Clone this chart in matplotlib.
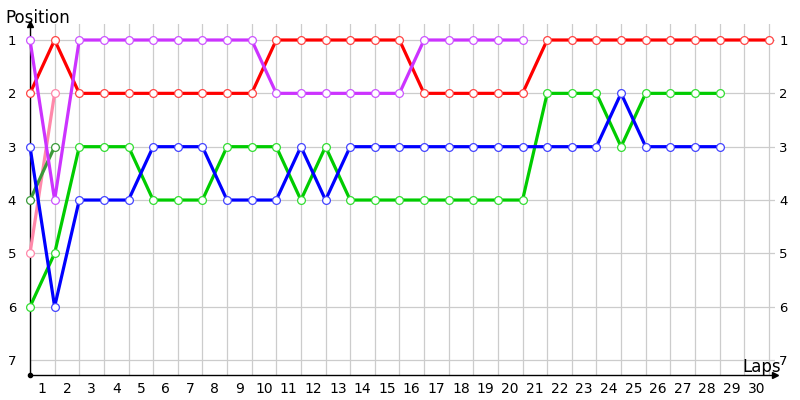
import matplotlib
matplotlib.use("Agg")
import matplotlib.pyplot as plt

# Race position chart: position per lap (lap 0 = start grid)
laps = list(range(31))
lap_labels = [str(k) for k in range(1, 31)]
pos_labels = [str(p) for p in range(1, 8)]

red_pos = [2, 1, 2, 2, 2, 2, 2, 2, 2, 2, 1, 1, 1, 1, 1, 1, 2, 2, 2, 2, 2,
           1, 1, 1, 1, 1, 1, 1, 1, 1, 1]
purple_pos = [1, 4, 1, 1, 1, 1, 1, 1, 1, 1, 2, 2, 2, 2, 2, 2, 1, 1, 1, 1, 1]
pink_pos = [5, 2]
dkgreen_pos = [4, 3]
green_pos = [6, 5, 3, 3, 3, 4, 4, 4, 3, 3, 3, 4, 3, 4, 4, 4, 4, 4, 4, 4, 4,
             2, 2, 2, 3, 2, 2, 2, 2]
blue_pos = [3, 6, 4, 4, 4, 3, 3, 3, 4, 4, 4, 3, 4, 3, 3, 3, 3, 3, 3, 3, 3,
            3, 3, 3, 2, 3, 3, 3, 3]

series = [
    (red_pos, "#ff0000", "#ff4444"),
    (pink_pos, "#ff88aa", "#ff88aa"),
    (dkgreen_pos, "#3a9a3a", "#3a9a3a"),
    (green_pos, "#00cc00", "#33dd33"),
    (blue_pos, "#0000ff", "#4444ff"),
    (purple_pos, "#cc33ff", "#cc55ff"),
]

fig = plt.figure(figsize=(8, 4), dpi=100)
ax = fig.add_axes([30 / 800, 25 / 400, 745 / 800, 351 / 400])

for pos, col, ecol in series:
    ax.plot(laps[:len(pos)], pos, color=col, lw=2.3, marker="o", ms=5.6,
            mfc="white", mec=ecol, mew=0.9, zorder=3, clip_on=False)

ax.set_xlim(0, 30.25)
ax.set_ylim(7.28, 0.7)

# grid lines at integer laps / positions
for k in laps:
    ax.axvline(k, color="#cccccc", lw=0.9, zorder=0)
for p in range(1, 8):
    ax.axhline(p, color="#cccccc", lw=0.9, zorder=0)

ax.set_xticks([k - 0.5 for k in range(1, 31)])
ax.set_xticklabels(lap_labels)
ax.set_yticks(range(1, 8))
ax.set_yticklabels(pos_labels)
ax.tick_params(axis="x", length=0, pad=5, labelsize=10)
ax.tick_params(axis="y", length=0, pad=10, labelsize=9.5)

# position labels repeated on the right
ax2 = ax.twinx()
ax2.set_ylim(ax.get_ylim())
ax2.set_yticks(range(1, 8))
ax2.set_yticklabels(pos_labels)
ax2.tick_params(axis="y", length=0, pad=3, labelsize=9.5)
for s in ax2.spines.values():
    s.set_visible(False)

for s in ["top", "right"]:
    ax.spines[s].set_visible(False)
for s in ["left", "bottom"]:
    ax.spines[s].set_color("black")
    ax.spines[s].set_linewidth(1.0)

# axis arrows and origin dot
ax.plot([0], [0.7], marker="^", color="black", ms=5, clip_on=False)
ax.plot([30.25], [7.28], marker=">", color="black", ms=5, clip_on=False)
ax.plot([0], [7.28], marker="o", color="black", ms=3, clip_on=False)

fig.text(5 / 800, 1 - 18 / 400, "Position", fontsize=12, va="center",
         ha="left")
fig.text(742 / 800, 1 - 367 / 400, "Laps", fontsize=12, va="center",
         ha="left")

fig.savefig("out.png", dpi=100)
